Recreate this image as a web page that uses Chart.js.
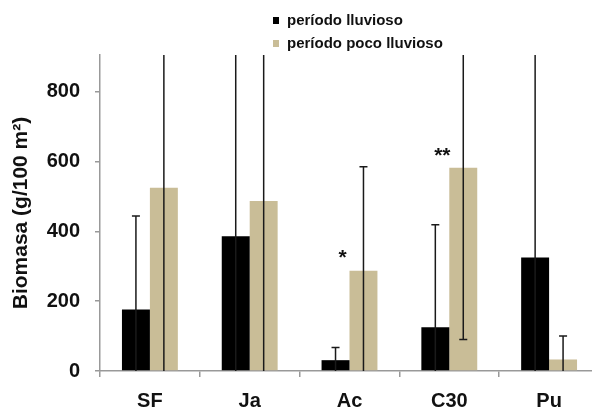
<!DOCTYPE html>
<html>
<head>
<meta charset="utf-8">
<script src="https://cdn.jsdelivr.net/npm/chart.js@4"></script>
<style>
  body { margin: 0; background: #fff; overflow: hidden; }
  #wrap { position: relative; width: 615px; height: 412px; }
  .leg { position: absolute; left: 273px; font: bold 15px "Liberation Sans", Arial, sans-serif; color: #111; white-space: nowrap; }
  .leg span { display: inline-block; width: 6px; height: 7px; margin-right: 8px; vertical-align: 1px; }
</style>
</head>
<body>
<div id="wrap">
  <canvas id="chart" width="615" height="412"></canvas>
  <div class="leg" style="top:11px"><span style="background:#000"></span>período lluvioso</div>
  <div class="leg" style="top:34px"><span style="background:#c9bd97"></span>período poco lluvioso</div>
</div>
<script>
const categories = ['SF', 'Ja', 'Ac', 'C30', 'Pu'];
const lluvioso = [176, 386, 31, 125, 325];
const lluviosoErr = [268, 600, 36, 294, 620];
const pocoLluvioso = [525, 487, 287, 582, 33];
const pocoLluviosoErr = [560, 520, 298, 492, 67];
const starText = ['', '', '*', '**', ''];
const starValue = [null, null, 335, 628, null];
const yTicks = [0, 200, 400, 600, 800];

const FONT = '"Liberation Sans", Arial, sans-serif';

// error bars (symmetric, clipped to the plot) + significance stars
const extras = {
  id: 'extras',
  afterDatasetsDraw(chart) {
    const ctx = chart.ctx, y = chart.scales.y, a = chart.chartArea;
    const errs = [lluviosoErr, pocoLluviosoErr];
    ctx.save();
    ctx.beginPath();
    ctx.rect(a.left, a.top, a.right - a.left, a.bottom - a.top);
    ctx.clip();
    ctx.strokeStyle = '#1a1a1a';
    ctx.lineWidth = 1.5;
    chart.data.datasets.forEach((ds, di) => {
      chart.getDatasetMeta(di).data.forEach((bar, i) => {
        const v = ds.data[i], e = errs[di][i];
        const hi = v + e, lo = Math.max(0, v - e);
        const x = bar.x;
        ctx.beginPath();
        ctx.moveTo(x, y.getPixelForValue(lo));
        ctx.lineTo(x, y.getPixelForValue(hi));
        if (hi <= y.max) {
          ctx.moveTo(x - 4, y.getPixelForValue(hi));
          ctx.lineTo(x + 4, y.getPixelForValue(hi));
        }
        if (v - e > 0) {
          ctx.moveTo(x - 4, y.getPixelForValue(lo));
          ctx.lineTo(x + 4, y.getPixelForValue(lo));
        }
        ctx.stroke();
      });
    });
    ctx.restore();
    ctx.save();
    ctx.fillStyle = '#111';
    ctx.font = 'bold 21px ' + FONT;
    ctx.textAlign = 'center';
    ctx.textBaseline = 'middle';
    starText.forEach((t, i) => {
      if (!t) return;
      const x = chart.scales.x.getPixelForValue(i) - 7;
      ctx.fillText(t, x, y.getPixelForValue(starValue[i]) + 4);
    });
    ctx.restore();
  }
};

new Chart(document.getElementById('chart').getContext('2d'), {
  type: 'bar',
  data: {
    labels: categories,
    datasets: [
      { label: 'período lluvioso', data: lluvioso, backgroundColor: '#000000' },
      { label: 'período poco lluvioso', data: pocoLluvioso, backgroundColor: '#c9bd97' }
    ]
  },
  options: {
    responsive: false,
    animation: false,
    layout: { padding: { top: 55, right: 16, left: 0, bottom: 0 } },
    datasets: { bar: { categoryPercentage: 0.56, barPercentage: 1.0 } },
    plugins: { legend: { display: false }, tooltip: { enabled: false } },
    scales: {
      x: {
        afterFit: s => { s.height = 41; },
        border: { color: '#999', width: 1.5 },
        grid: { drawOnChartArea: false, offset: true, tickLength: 6, color: '#999', lineWidth: 1.5 },
        ticks: { color: '#111', padding: 12, font: { family: FONT, size: 20, weight: 'bold' } }
      },
      y: {
        min: 0,
        max: 905,
        afterFit: s => { s.width = 100; },
        afterBuildTicks: s => { s.ticks = yTicks.map(v => ({ value: v })); },
        border: { color: '#999', width: 1.5 },
        grid: { drawOnChartArea: false, tickLength: 5, color: '#999', lineWidth: 1.5 },
        ticks: { color: '#111', padding: 15, font: { family: FONT, size: 20, weight: 'bold' } },
        title: {
          display: true,
          text: 'Biomasa (g/100 m²)',
          color: '#111',
          padding: { top: 9, bottom: 0 },
          font: { family: FONT, size: 21, weight: 'bold' }
        }
      }
    }
  },
  plugins: [extras]
});
</script>
</body>
</html>
